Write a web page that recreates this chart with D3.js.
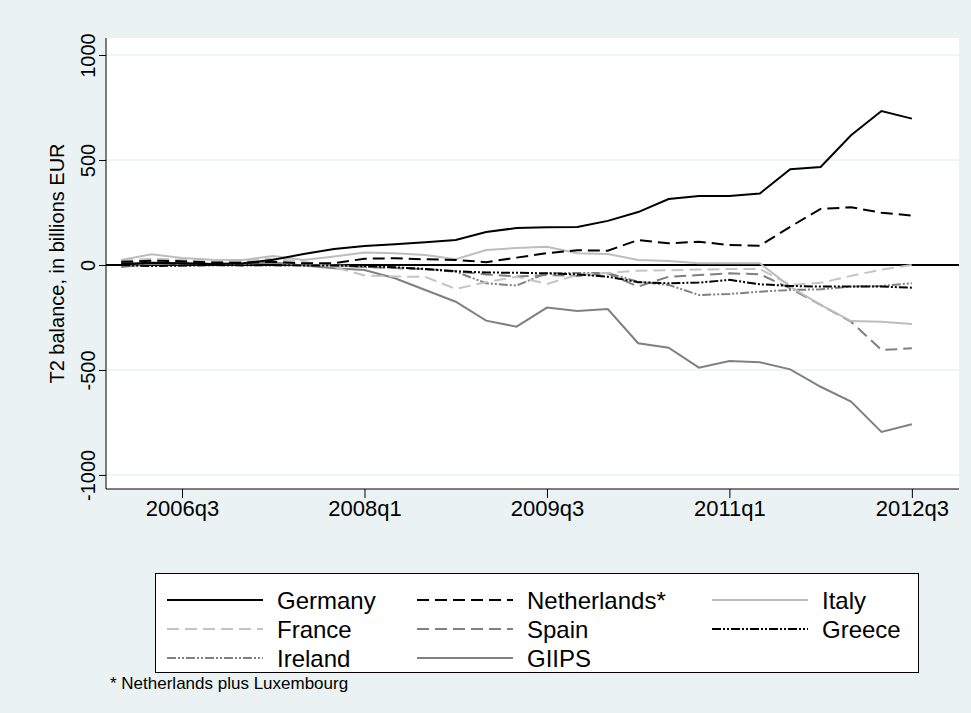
<!DOCTYPE html>
<html><head><meta charset="utf-8">
<script src="https://cdn.jsdelivr.net/npm/d3@7"></script>
<style>body{margin:0;background:#eaf2f3;}svg{display:block;}text{font-family:"Liberation Sans",Arial,sans-serif;}</style>
</head><body>
<svg id="c" width="971" height="713"></svg>
<script>
const quarters = ["2006q1","2006q2","2006q3","2006q4","2007q1","2007q2","2007q3","2007q4","2008q1","2008q2","2008q3","2008q4","2009q1","2009q2","2009q3","2009q4","2010q1","2010q2","2010q3","2010q4","2011q1","2011q2","2011q3","2011q4","2012q1","2012q2","2012q3"];
const xTickLabels = ["2006q3","2008q1","2009q3","2011q1","2012q3"];
const yTicks = [-1000,-500,0,500,1000];
const germany = [5,10,8,5,8,25,52,76,90,99,108,119,157,176,180,181,210,252,314,329,329,340,456,467,618,733,697];
const netherlands = [15,20,18,12,10,15,8,8,30,32,27,24,13,35,56,70,68,119,103,111,95,92,182,267,275,249,235];
const italy = [24,51,33,25,24,43,24,40,59,56,48,27,71,81,87,56,52,24,19,8,8,8,-103,-190,-267,-271,-281];
const france = [20,30,25,15,20,30,15,-10,-50,-55,-57,-114,-82,-56,-90,-48,-38,-27,-25,-22,-19,-19,-95,-85,-52,-22,0];
const spain = [10,5,5,10,15,10,5,0,-10,-15,-20,-30,-45,-55,-48,-52,-40,-103,-56,-48,-40,-44,-111,-190,-270,-405,-397];
const greece = [0,-5,-3,0,-2,0,-3,-2,-5,-11,-19,-30,-36,-37,-40,-45,-56,-82,-87,-84,-71,-92,-100,-103,-103,-103,-108];
const ireland = [-5,0,-3,-2,0,-3,0,-2,-10,-12,-20,-32,-87,-98,-38,-38,-38,-80,-95,-143,-138,-127,-119,-116,-103,-100,-87];
const giips = [-10,5,8,5,5,12,-2,-16,-24,-63,-119,-175,-265,-294,-203,-219,-210,-373,-394,-489,-457,-463,-497,-580,-651,-795,-759];

const series = [
  {name:"Germany", values:germany, color:"#000000", dash:null},
  {name:"Netherlands*", values:netherlands, color:"#000000", dash:"12,6"},
  {name:"Italy", values:italy, color:"#bdbdbd", dash:null},
  {name:"France", values:france, color:"#c4c4c4", dash:"12,6"},
  {name:"Spain", values:spain, color:"#808080", dash:"12,6"},
  {name:"Greece", values:greece, color:"#000000", dash:"9,2,2,2,2,2"},
  {name:"Ireland", values:ireland, color:"#808080", dash:"9,2,2,2,2,2"},
  {name:"GIIPS", values:giips, color:"#808080", dash:null}
];

const svg = d3.select("#c");
const L=106, R=959, T=38, B=489;
svg.append("rect").attr("x",0).attr("y",0).attr("width",971).attr("height",713).attr("fill","#eaf2f3");
svg.append("rect").attr("x",L).attr("y",T).attr("width",R-L).attr("height",B-T).attr("fill","#ffffff");

const x = d3.scaleLinear().domain([-0.5,27.55]).range([L,R]);
const y = d3.scaleLinear().domain([-1067,1081]).range([B,T]);

// grid
svg.append("g").selectAll("line").data(yTicks).join("line")
  .attr("x1",L).attr("x2",R).attr("y1",d=>y(d)).attr("y2",d=>y(d))
  .attr("stroke","#eaf2f3").attr("stroke-width",1.5);

// zero line
svg.append("line").attr("x1",L).attr("x2",R).attr("y1",y(0)).attr("y2",y(0)).attr("stroke","#000").attr("stroke-width",2);

// y axis
const yAxis = svg.append("g").attr("transform",`translate(${L},0)`)
  .call(d3.axisLeft(y).tickValues(yTicks).tickSize(7).tickFormat(d=>String(d)));
yAxis.select(".domain").attr("d",`M0,${T}V${B}`).attr("stroke","#000");
yAxis.selectAll(".tick line").attr("stroke","#000");
yAxis.selectAll(".tick text").attr("font-size",20).attr("fill","#000")
  .attr("x",0).attr("y",0).attr("dx",0).attr("dy",0)
  .attr("text-anchor","middle")
  .attr("transform","translate(-11,0) rotate(-90)");

// x axis
const tickIdx = xTickLabels.map(l=>quarters.indexOf(l));
const xAxis = svg.append("g").attr("transform",`translate(0,${B})`)
  .call(d3.axisBottom(x).tickValues(tickIdx).tickSize(9).tickFormat(i=>quarters[i]));
xAxis.select(".domain").attr("d",`M${L},0H${R}`).attr("stroke","#000");
xAxis.selectAll(".tick line").attr("stroke","#000");
xAxis.selectAll(".tick text").attr("font-size",22).attr("fill","#000").attr("y",11).attr("dy","0.71em");

// y title
svg.append("text").attr("transform",`translate(64,${(T+B)/2}) rotate(-90)`)
  .attr("text-anchor","middle").attr("font-size",20).text("T2 balance, in billions EUR");

// lines
const line = d3.line().x((d,i)=>x(i)).y(d=>y(d));
const order = [7,6,4,3,2,5,1,0];
svg.append("g").selectAll("path").data(order.map(i=>series[i])).join("path")
  .attr("d",d=>line(d.values)).attr("fill","none")
  .attr("stroke",d=>d.color).attr("stroke-width",2)
  .attr("stroke-dasharray",d=>d.dash);

// legend
const lg = svg.append("g");
lg.append("rect").attr("x",155.5).attr("y",573.5).attr("width",763).attr("height",99)
  .attr("fill","#fff").attr("stroke","#000").attr("stroke-width",1);
const colX = [167, 417, 712];
const rowY = [600, 629, 658];
series.forEach((s,k)=>{
  const c = k%3, r = Math.floor(k/3);
  const lx = colX[c];
  lg.append("line").attr("x1",lx).attr("x2",lx+96).attr("y1",rowY[r]).attr("y2",rowY[r])
    .attr("stroke",s.color).attr("stroke-width",2).attr("stroke-dasharray",s.dash);
  lg.append("text").attr("x",lx+110).attr("y",rowY[r]).attr("dy","0.36em")
    .attr("font-size",24).text(s.name);
});

svg.append("text").attr("x",110).attr("y",689).attr("font-size",17).text("* Netherlands plus Luxembourg");
</script>
</body></html>
